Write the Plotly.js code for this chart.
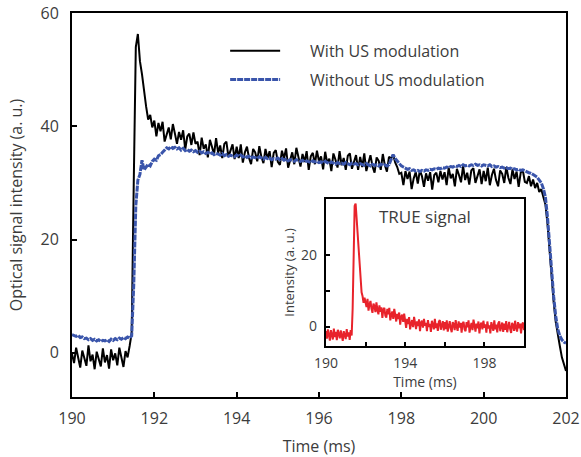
<!DOCTYPE html>
<html>
<head>
<meta charset="utf-8">
<script src="https://cdn.plot.ly/plotly-3.0.1.min.js"></script>
<style>html,body{margin:0;padding:0;background:#fff;}#chart{width:581px;height:457px;}</style>
</head>
<body>
<div id="chart"></div>
<script>
// Time axis of the main traces (ms)
const timeMain = [
190.00,190.05,190.10,190.15,190.20,190.25,190.30,190.35,190.40,190.45,190.50,190.55,190.60,190.65,190.70,190.75,190.80,190.85,190.90,190.95,
191.00,191.05,191.10,191.15,191.20,191.25,191.30,191.35,191.40,191.45,191.50,191.55,191.60,191.65,191.70,191.75,191.80,191.85,191.90,191.95,
192.00,192.05,192.10,192.15,192.20,192.25,192.30,192.35,192.40,192.45,192.50,192.55,192.60,192.65,192.70,192.75,192.80,192.85,192.90,192.95,
193.00,193.05,193.10,193.15,193.20,193.25,193.30,193.35,193.40,193.45,193.50,193.55,193.60,193.65,193.70,193.75,193.80,193.85,193.90,193.95,
194.00,194.05,194.10,194.15,194.20,194.25,194.30,194.35,194.40,194.45,194.50,194.55,194.60,194.65,194.70,194.75,194.80,194.85,194.90,194.95,
195.00,195.05,195.10,195.15,195.20,195.25,195.30,195.35,195.40,195.45,195.50,195.55,195.60,195.65,195.70,195.75,195.80,195.85,195.90,195.95,
196.00,196.05,196.10,196.15,196.20,196.25,196.30,196.35,196.40,196.45,196.50,196.55,196.60,196.65,196.70,196.75,196.80,196.85,196.90,196.95,
197.00,197.05,197.10,197.15,197.20,197.25,197.30,197.35,197.40,197.45,197.50,197.55,197.60,197.65,197.70,197.75,197.80,197.85,197.90,197.95,
198.00,198.05,198.10,198.15,198.20,198.25,198.30,198.35,198.40,198.45,198.50,198.55,198.60,198.65,198.70,198.75,198.80,198.85,198.90,198.95,
199.00,199.05,199.10,199.15,199.20,199.25,199.30,199.35,199.40,199.45,199.50,199.55,199.60,199.65,199.70,199.75,199.80,199.85,199.90,199.95,
200.00,200.05,200.10,200.15,200.20,200.25,200.30,200.35,200.40,200.45,200.50,200.55,200.60,200.65,200.70,200.75,200.80,200.85,200.90,200.95,
201.00,201.05,201.10,201.15,201.20,201.25,201.30,201.35,201.40,201.45,201.50,201.55,201.60,201.65,201.70,201.75,201.80,201.85,201.90,201.95,
202.00
];

// "With US modulation" (black)
const withUS = [
-0.2,-1.8,0.9,-1.2,-2.6,0.4,-0.9,-2.3,1.3,-1.5,-0.3,-2.9,0.2,-1.0,-2.4,0.8,-1.7,-0.4,-2.8,0.6,
-1.3,-0.1,-2.2,0.9,-1.1,-2.5,0.3,-0.8,1.2,3.5,30.0,54.0,56.3,51.5,49.2,45.8,43.5,41.2,42.0,39.8,
41.0,38.2,40.6,39.1,40.8,37.3,38.8,39.8,37.7,40.4,38.7,36.9,39.0,37.6,39.3,35.9,38.2,38.7,36.7,38.9,
36.9,37.3,34.9,38.0,36.0,36.8,34.5,37.6,36.4,35.0,37.9,35.3,36.6,34.4,36.9,37.3,34.6,35.6,36.8,34.2,
36.4,34.4,36.8,33.6,35.4,36.4,34.4,33.3,36.0,35.4,33.8,36.5,34.6,33.5,36.0,34.3,35.6,32.8,35.3,35.8,
33.7,33.2,35.7,34.3,36.1,32.7,34.3,35.4,33.3,36.2,34.6,32.9,35.1,33.7,35.6,32.3,34.7,35.3,33.3,35.7,
33.8,34.7,32.4,35.5,33.5,34.3,32.1,35.2,34.1,32.7,35.6,33.1,34.4,32.3,34.8,35.2,32.5,33.6,34.9,32.3,
34.6,32.8,35.2,32.1,33.8,34.9,32.9,31.8,34.5,33.9,32.3,35.1,33.1,32.0,34.6,34.3,35.0,33.6,32.8,31.6,
31.8,29.6,32.1,30.7,32.0,28.9,30.8,31.9,29.9,32.2,31.2,29.3,31.7,30.4,31.9,28.8,31.4,31.8,30.1,32.1,
30.6,31.9,29.6,32.7,30.8,31.6,29.4,32.5,31.4,30.1,33.0,30.5,31.8,29.7,32.2,32.6,30.0,31.1,32.4,29.8,
32.1,30.3,32.7,29.6,31.4,32.5,30.5,29.4,32.2,31.6,30.0,32.8,30.9,29.8,32.4,30.7,32.0,29.3,31.8,32.3,
30.2,30.0,31.2,29.4,30.6,29.1,30.0,28.4,28.9,27.5,26.2,22.8,17.8,13.0,9.0,5.5,3.0,1.2,-0.8,-2.0,
-3.2
];

// "Without US modulation" (blue)
const withoutUS = [
3.2,3.0,2.9,3.1,2.7,2.8,2.5,2.6,2.3,2.5,2.2,2.4,2.1,2.3,2.0,2.2,2.1,2.3,2.0,2.4,
2.2,2.5,2.3,2.6,2.4,2.7,2.5,2.8,2.6,3.0,12.0,26.0,30.5,31.5,34.0,32.3,32.8,33.3,33.0,33.8,
34.2,34.0,34.8,35.0,35.4,35.9,36.2,36.0,36.4,36.1,36.3,36.0,36.2,35.8,36.1,35.7,35.9,35.6,35.8,35.5,
35.7,35.4,35.6,35.3,35.5,35.2,35.4,35.1,35.3,35.0,35.2,35.1,34.9,35.2,34.8,35.0,34.7,34.9,34.8,34.6,
34.9,34.7,34.9,34.6,34.8,34.5,34.7,34.4,34.6,34.5,34.3,34.6,34.4,34.2,34.5,34.3,34.4,34.1,34.3,34.2,
34.4,34.1,34.3,34.0,34.2,33.9,34.1,34.0,33.8,34.1,33.9,33.8,34.0,33.7,33.9,33.8,33.6,33.9,33.7,33.8,
33.6,33.7,33.5,33.8,33.6,33.4,33.7,33.5,33.3,33.6,33.4,33.5,33.3,33.6,33.4,33.2,33.5,33.3,33.4,33.2,
33.4,33.3,33.1,33.4,33.2,33.0,33.3,33.1,33.2,33.0,33.3,33.1,33.2,33.0,33.2,34.0,35.0,34.3,33.8,33.5,
33.0,32.8,32.6,32.4,32.5,32.2,32.3,32.1,32.2,32.0,32.2,32.1,32.3,32.2,32.4,32.3,32.5,32.4,32.6,32.5,
32.7,32.6,32.8,32.7,32.9,32.8,33.0,32.9,33.1,32.9,33.2,33.0,33.1,33.0,33.2,33.1,33.3,33.1,33.2,33.0,
33.2,33.1,33.0,33.2,32.9,33.0,32.8,32.9,32.7,32.8,32.6,32.7,32.5,32.6,32.4,32.5,32.3,32.4,32.2,32.3,
32.1,32.0,31.8,31.7,31.5,31.2,31.0,30.5,30.0,29.0,27.5,24.0,19.0,14.0,10.0,6.5,4.2,3.0,2.3,1.9,
1.7
];

// Inset: time axis (190–200 ms) and "TRUE signal" (red)
const timeInset = timeMain.slice(0, 201);
const trueSignal = [
-1.2,-3.4,-0.8,-2.6,-3.9,-1.0,-2.2,-3.6,-0.6,-2.9,-1.5,-3.8,-0.9,-2.4,-3.3,-1.1,-2.7,-4.0,-1.3,-2.1,
-3.5,-0.7,-2.8,-1.6,-3.7,-1.0,-2.5,5.0,26.0,33.5,34.2,30.0,25.0,20.5,16.5,12.5,9.5,8.4,6.6,8.0,
6.2,5.4,7.7,4.4,6.1,7.1,5.0,3.8,6.4,5.7,4.0,6.7,4.6,3.4,5.9,4.1,5.3,2.4,4.8,5.2,
3.0,2.5,4.9,3.4,5.2,1.7,3.2,4.2,2.1,4.9,3.2,1.4,3.5,2.1,3.9,0.5,2.8,3.3,1.3,3.6,
1.6,-0.4,2.1,0.7,2.6,-0.8,0.8,1.8,-0.2,2.7,1.1,-0.7,1.4,0.1,2.0,-1.3,1.1,1.6,-0.3,2.1,
0.2,1.0,-1.3,1.8,-0.1,0.7,-1.5,1.6,0.5,-0.8,2.1,-0.4,0.9,-1.2,1.3,1.8,-0.9,0.2,1.5,-1.1,
1.2,-0.7,1.7,-1.4,0.4,1.5,-0.5,-1.6,1.2,0.6,-1.0,1.8,-0.1,-1.2,1.4,-0.3,1.0,-1.7,0.8,1.3,
-0.8,-1.3,1.2,-0.2,1.7,-1.7,-0.1,1.0,-1.0,1.9,0.3,-1.4,0.8,-0.5,1.4,-1.9,0.5,1.1,-0.8,1.6,
-0.3,0.6,-1.7,1.4,-0.5,0.3,-1.9,1.2,0.1,-1.2,1.7,-0.8,0.5,-1.6,0.9,1.4,-1.3,-0.2,1.1,-1.5,
0.8,-0.9,1.5,-1.6,0.2,1.3,-0.7,-1.8,1.0,0.4,-1.2,1.6,-0.3,-1.4,1.2,-0.5,0.8,-1.9,0.6,1.1,
-1.0
];

const mainXTicks = [190, 192, 194, 196, 198, 200, 202];
const mainYTicks = [0, 20, 40, 60];
const insetXTicks = [190, 192, 194, 196, 198];
const insetXLabels = ['190', '', '194', '', '198'];
const insetYTicks = [0, 10, 20];
const insetYLabels = ['0', '', '20'];

const seriesNames = ['With US modulation', 'Without US modulation'];
const pad = '\u00a0'.repeat(6);

const FONT = 'Open Sans, Noto Sans, sans-serif';
const TXT = '#3c3c3c';

const traces = [
  {x: timeMain, y: withUS, type: 'scatter', mode: 'lines', name: pad + seriesNames[0],
   legendgroup: 'a', line: {color: '#000000', width: 2}, xaxis: 'x', yaxis: 'y'},
  {x: timeMain, y: withoutUS, type: 'scatter', mode: 'lines', name: pad + seriesNames[1],
   legendgroup: 'b', line: {color: '#3a55ab', width: 3, dash: '6px,1px'}, xaxis: 'x', yaxis: 'y'},
  {x: timeInset, y: trueSignal, type: 'scatter', mode: 'lines', name: 'TRUE signal',
   showlegend: false, line: {color: '#e8232b', width: 2}, xaxis: 'x2', yaxis: 'y2'}
];

const axisCommon = {
  showline: true, linecolor: '#000', mirror: true, showgrid: false, zeroline: false,
  ticks: 'inside', tickcolor: '#000', tickfont: {family: FONT, size: 16, color: TXT}
};

const layout = {
  width: 581, height: 457,
  margin: {l: 72, r: 15, t: 13, b: 60},
  paper_bgcolor: '#fff', plot_bgcolor: '#fff',
  font: {family: FONT, color: TXT},
  showlegend: true,
  legend: {x: 0.31, y: 0.946, xanchor: 'left', yanchor: 'top', bgcolor: 'rgba(0,0,0,0)',
           itemwidth: 50,
           font: {family: FONT, size: 16, color: TXT}, tracegroupgap: 5, traceorder: 'grouped'},
  xaxis: Object.assign({}, axisCommon, {
    domain: [0, 1], range: [190, 202], tickvals: mainXTicks, linewidth: 2, tickwidth: 2, ticklen: 5,
    ticklabelstandoff: 6,
    title: {text: 'Time (ms)', font: {family: FONT, size: 16, color: TXT}, standoff: 15}
  }),
  yaxis: Object.assign({}, axisCommon, {
    domain: [0, 1], range: [-7.8, 60], tickvals: mainYTicks, linewidth: 2, tickwidth: 2, ticklen: 5,
    ticklabelstandoff: 8,
    title: {text: 'Optical signal intensity (a. u.)', font: {family: FONT, size: 16, color: TXT}, standoff: 14}
  }),
  xaxis2: Object.assign({}, axisCommon, {
    anchor: 'y2', domain: [0.514, 0.915], range: [190, 200], tickvals: insetXTicks, ticktext: insetXLabels,
    linewidth: 2, tickwidth: 2, ticklen: 4, tickfont: {family: FONT, size: 14, color: TXT},
    ticklabelstandoff: 3,
    title: {text: 'Time (ms)', font: {family: FONT, size: 14, color: TXT}, standoff: 0}
  }),
  yaxis2: Object.assign({}, axisCommon, {
    anchor: 'x2', domain: [0.133, 0.516], range: [-5.4, 35.5], tickvals: insetYTicks, ticktext: insetYLabels,
    linewidth: 2, tickwidth: 2, ticklen: 4, tickfont: {family: FONT, size: 14, color: TXT},
    ticklabelstandoff: 4,
    title: {text: 'Intensity (a. u.)', font: {family: FONT, size: 13, color: TXT}, standoff: 4}
  }),
  annotations: [
    {xref: 'x2', yref: 'y2', x: 195, y: 30.5, text: 'TRUE signal', showarrow: false,
     font: {family: FONT, size: 17, color: TXT}}
  ]
};

Plotly.newPlot('chart', traces, layout, {staticPlot: true, displayModeBar: false});
</script>
</body>
</html>
